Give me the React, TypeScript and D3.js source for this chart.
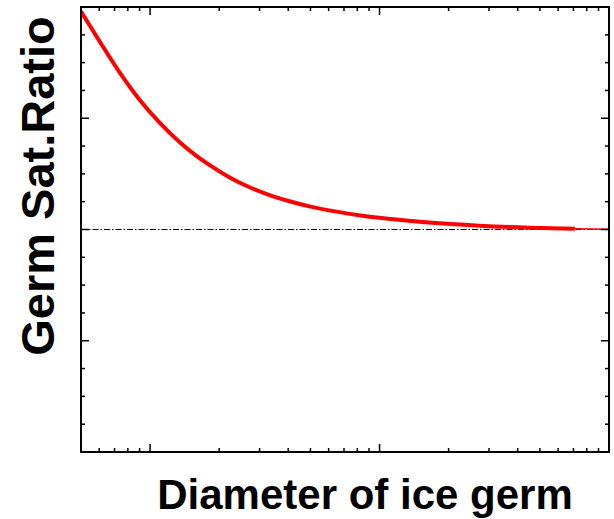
import React from "react";
import * as d3 from "d3";

const diameters = [0.5, 0.605, 0.739, 0.902, 1.103, 1.347, 1.592, 1.819, 2.222, 2.715, 3.316, 4.052, 4.95, 6.69, 8.42, 11.83, 16.45, 27.2, 45, 71];
const satRatio = [1.98, 1.843, 1.704, 1.582, 1.479, 1.392, 1.331, 1.289, 1.234, 1.19, 1.155, 1.127, 1.104, 1.078, 1.062, 1.045, 1.031, 1.017, 1.0084, 1.0039];
const tailDiameters = [71, 100];
const tailRatio = [1.0039, 1.001];
const refRatio = 1.0;
const xDomain = [0.5, 100];
const yDomain = [0, 2];
const yMinorStep = 0.125;
const yMajorTicks = [0.5, 1.0, 1.5];

const W = 614, H = 519;
const L = 81, R = 609, T = 7, B = 452;

export default function App() {
  const x = d3.scaleLog().domain(xDomain).range([L, R]);
  const y = d3.scaleLinear().domain(yDomain).range([B, T]);

  const xTicks: { v: number; major: boolean }[] = [];
  for (let e = -1; e <= 2; e++) {
    for (let m = 1; m <= 9; m++) {
      const v = m * Math.pow(10, e);
      if (v > xDomain[0] * 1.0001 && v < xDomain[1] * 0.9999) xTicks.push({ v, major: m === 1 });
    }
  }
  const yTicks: { v: number; major: boolean }[] = [];
  for (let v = yMinorStep; v < yDomain[1] - 1e-9; v += yMinorStep) {
    yTicks.push({ v, major: yMajorTicks.some((t) => Math.abs(t - v) < 1e-9) });
  }

  const pts = diameters.map((d, i) => [d, satRatio[i]] as [number, number]);
  const line = d3
    .line<[number, number]>()
    .x((p) => x(p[0]))
    .y((p) => y(p[1]))
    .curve(d3.curveMonotoneX);
  const tail = tailDiameters.map((d, i) => [d, tailRatio[i]] as [number, number]);

  const majLen = 8, minLen = 4;

  return (
    <svg width={W} height={H} style={{ position: "absolute", left: 0, top: 0 }} fontFamily="Liberation Sans, Arial, sans-serif">
      <rect width={W} height={H} fill="#fff" />
      <defs>
        <clipPath id="plot">
          <rect x={L} y={T} width={R - L} height={B - T} />
        </clipPath>
      </defs>
      <line x1={L} x2={R} y1={y(refRatio)} y2={y(refRatio)} stroke="#000" strokeWidth={1} strokeDasharray="6,2,1.5,2" />
      <g clipPath="url(#plot)">
        <path d={line(tail) || ""} fill="none" stroke="#ff0000" strokeWidth={1.5} />
        <path d={line(pts) || ""} fill="none" stroke="#ff0000" strokeWidth={4} />
      </g>
      {xTicks.map((t, i) => {
        const len = t.major ? majLen : minLen;
        const px = x(t.v);
        return (
          <g key={"x" + i} stroke="#000" strokeWidth={1.5}>
            <line x1={px} x2={px} y1={B} y2={B - len} />
            <line x1={px} x2={px} y1={T} y2={T + len} />
          </g>
        );
      })}
      {yTicks.map((t, i) => {
        const len = t.major ? majLen : minLen;
        const py = y(t.v);
        return (
          <g key={"y" + i} stroke="#000" strokeWidth={1.5}>
            <line x1={L} x2={L + len} y1={py} y2={py} />
            <line x1={R} x2={R - len} y1={py} y2={py} />
          </g>
        );
      })}
      <rect x={L} y={T} width={R - L} height={B - T} fill="none" stroke="#000" strokeWidth={2} />
      <text x={365} y={509} textAnchor="middle" fontSize={42} fontWeight="bold" fill="#000">
        Diameter of ice germ
      </text>
      <text transform="translate(54,186) rotate(-90)" textAnchor="middle" fontSize={47} fontWeight="bold" fill="#000">
        Germ Sat.Ratio
      </text>
    </svg>
  );
}
